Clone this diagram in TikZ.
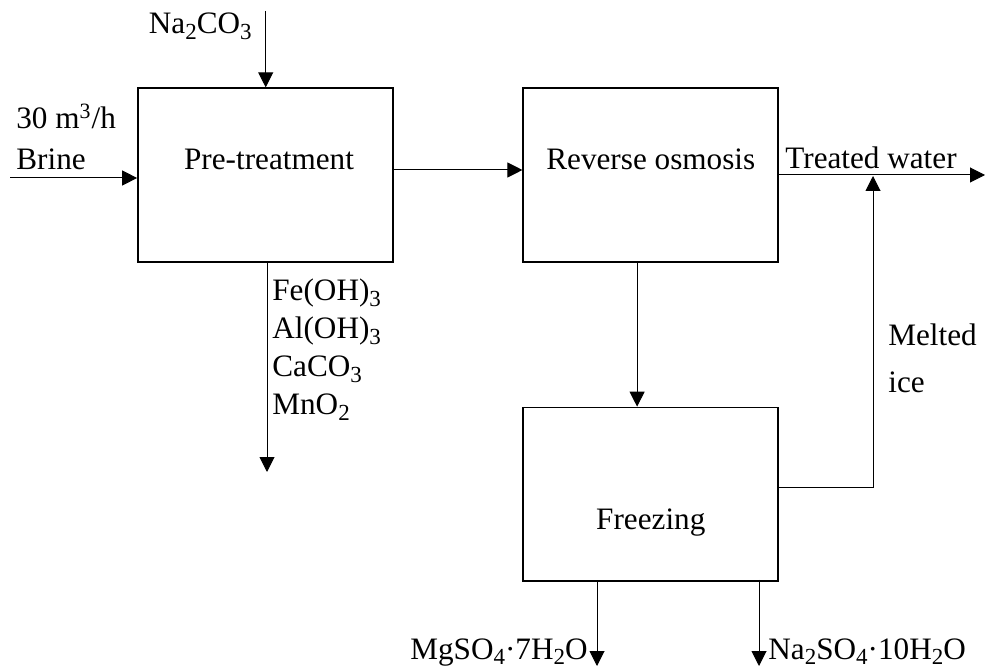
\documentclass[tikz,border=0pt]{standalone}
\usepackage{fontspec}
\setmainfont{Liberation Serif}
\usepackage{tikz}
\usetikzlibrary{arrows.meta, positioning}
\newcommand\chemsub[1]{\raisebox{-0.4ex}{\fontsize{11.5}{12}\selectfont #1}}

\begin{document}
\begin{tikzpicture}[
  x=0.5pt, y=-0.5pt,
  font=\fontsize{15.6}{18}\selectfont,
  box/.style={draw, line width=0.85pt, minimum width=127.5pt, minimum height=86.8pt, inner sep=0pt},
  ar/.style={-{Triangle[length=7.5pt, width=7.5pt]}, line width=0.5pt},
  lbl/.style={inner sep=0pt}
]
\useasboundingbox (0,0) rectangle (986,668);
% process units
\node[box] (pre) at (265.5,175) {};
\node[box, right=64.3pt of pre] (ro) {};
\node[box, below=72pt of ro] (frz) {};
\node[lbl, anchor=base] at ([xshift=1.75pt, yshift=2.5pt]pre.center) {Pre-treatment};
\node[lbl, anchor=base] at ([yshift=2.8pt]ro.center) {Reverse osmosis};
\node[lbl, anchor=base] at ([yshift=-17.8pt]frz.center) {Freezing};
% free ends
\coordinate (naIn) at (265.7,11);
\coordinate (brineIn) at (10,178);
\coordinate (waterOut) at (985,175);
\coordinate (mix) at (873,176);
\coordinate (sludgeOut) at (267,472);
\coordinate (mgOut) at (597,666);
\coordinate (naOut) at (759,666);
% streams
\draw[ar] (naIn) -- (naIn |- pre.north);
\draw[ar] (brineIn) -- (brineIn -| pre.west);
\draw[ar] ([yshift=2.5pt]pre.east) -- ([yshift=2.5pt]ro.west);
\draw[ar] (ro.east) -- (waterOut);
\draw[ar] ([xshift=-6.85pt]ro.south) -- ([xshift=-6.85pt]frz.north);
\draw[ar] ([yshift=3.65pt]frz.east) -| (mix);
\draw[ar] (sludgeOut |- pre.south) -- (sludgeOut);
\draw[ar] (mgOut |- frz.south) -- (mgOut);
\draw[ar] ([yshift=1pt]naOut |- frz.south) -- (naOut);
% stream labels
\node[lbl, anchor=base east] at (252,34) {Na\chemsub{2}CO\chemsub{3}};
\node[lbl, anchor=base west] at (16,129) {30 m\textsuperscript{3}/h};
\node[lbl, anchor=base west] at (16,170) {Brine};
\node[lbl, anchor=base west] at (785,169) {Treated water};
\node[lbl, anchor=base west] at (888,346) {Melted};
\node[lbl, anchor=base west] at (888,393) {ice};
\node[lbl, anchor=base west] at (272,301) {Fe(OH)\chemsub{3}};
\node[lbl, anchor=base west] at (272,339) {Al(OH)\chemsub{3}};
\node[lbl, anchor=base west] at (272,377) {CaCO\chemsub{3}};
\node[lbl, anchor=base west] at (272,415) {MnO\chemsub{2}};
\node[lbl, anchor=base east] at (588,659) {MgSO\chemsub{4}·7H\chemsub{2}O};
\node[lbl, anchor=base west] at (768,659) {Na\chemsub{2}SO\chemsub{4}·10H\chemsub{2}O};
\end{tikzpicture}
\end{document}
